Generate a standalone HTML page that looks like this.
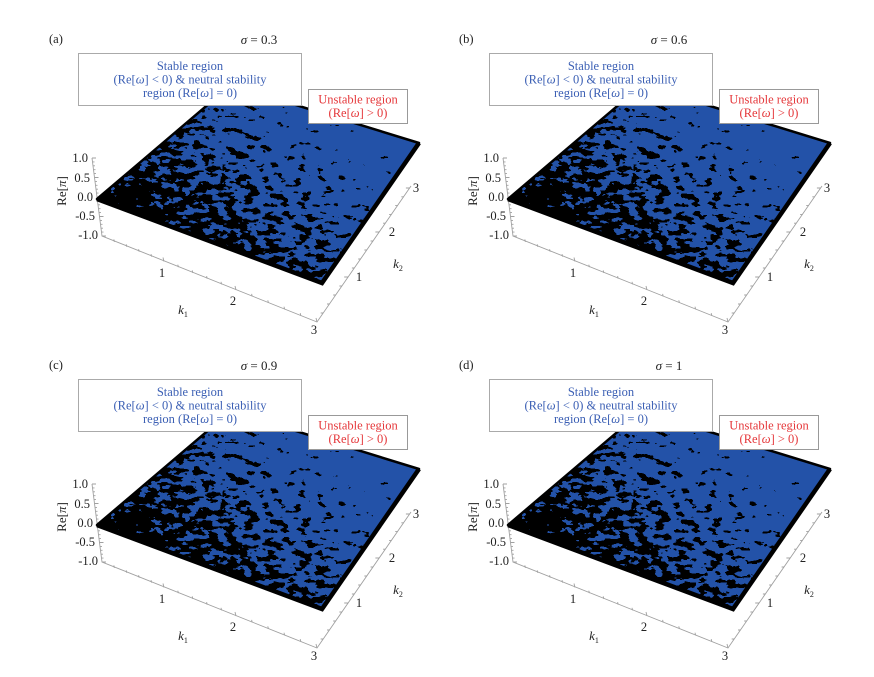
<!DOCTYPE html>
<html><head><meta charset="utf-8"><style>
html,body{margin:0;padding:0;background:#fff;}
svg{display:block;}
text{font-family:"Liberation Serif",serif;}
</style></head><body>
<svg width="874" height="677" viewBox="0 0 874 677" xmlns="http://www.w3.org/2000/svg">
<defs>
  <linearGradient id="gS" gradientUnits="userSpaceOnUse" x1="0" y1="0" x2="192" y2="360">
    <stop offset="0" stop-color="rgb(86,86,86)"/>
    <stop offset="0.5" stop-color="rgb(152,152,152)"/>
    <stop offset="1" stop-color="rgb(222,222,222)"/>
  </linearGradient>
  <linearGradient id="gE" gradientUnits="userSpaceOnUse" x1="0" y1="0" x2="0" y2="25">
    <stop offset="0" stop-color="#000" stop-opacity="0.15"/>
    <stop offset="1" stop-color="#000" stop-opacity="0"/>
  </linearGradient>
  <radialGradient id="gL" gradientUnits="userSpaceOnUse" cx="0" cy="0" r="80">
    <stop offset="0" stop-color="#000" stop-opacity="0.3"/>
    <stop offset="1" stop-color="#000" stop-opacity="0"/>
  </radialGradient>
  <filter id="bf" filterUnits="userSpaceOnUse" x="-40" y="-40" width="440" height="440" color-interpolation-filters="sRGB">
    <feTurbulence type="fractalNoise" baseFrequency="0.075" numOctaves="3" seed="7" result="n"/>
    <feColorMatrix in="n" type="matrix" values="1 0 0 0 0  1 0 0 0 0  1 0 0 0 0  0 0 0 0 1" result="g"/>
    <feComposite in="g" in2="SourceGraphic" operator="arithmetic" k1="0" k2="1" k3="1" k4="-0.5" result="s"/>
    <feComponentTransfer in="s" result="t">
      <feFuncR type="discrete" tableValues="0 1"/>
    </feComponentTransfer>
    <feColorMatrix in="t" type="matrix" values="0.137 0 0 0 0  0.32 0 0 0 0  0.66 0 0 0 0  0 0 0 0 1"/>
  </filter>
  <clipPath id="clipS">
    <polygon points="97,199 231,85 419,143 322,283"/>
  </clipPath>

  <g id="P">
    <!-- axes -->
    <g stroke="#a0a0a0" stroke-width="0.9" fill="none">
      <path d="M92 158 L102 236 L317 322 L411 186"/>
      <path d="M92 158h4 M92.5 161.9h2 M93 165.8h2 M93.5 169.7h2 M94 173.6h2 M94.5 177.5h4 M95 181.4h2 M95.5 185.3h2 M96 189.2h2 M96.5 193.1h2 M97 197h4 M97.5 200.9h2 M98 204.8h2 M98.5 208.7h2 M99 212.6h2 M99.5 216.5h4 M100 220.4h2 M100.5 224.3h2 M101 228.2h2 M101.5 232.1h2 M102 236h4"/>
      <path d="M114.4 241.9l-0.6 -2.5 M126.8 246.8l-0.6 -2.5 M139.2 251.7l-0.6 -2.5 M151.6 256.6l-0.6 -2.5 M164 261.5l-1 -4 M178.4 267.2l-0.6 -2.5 M192.8 272.9l-0.6 -2.5 M207.2 278.6l-0.6 -2.5 M221.6 284.3l-0.6 -2.5 M236 290l-1 -4 M252.2 296.4l-0.6 -2.5 M268.4 302.8l-0.6 -2.5 M284.6 309.2l-0.6 -2.5 M300.8 315.6l-0.6 -2.5 M317 322l-1 -4"/>
      <path d="M323.2 313h-2.5 M329.5 304h-2.5 M335.7 295h-2.5 M341.9 286h-2.5 M348.2 277h-4 M354.4 268h-2.5 M360.7 259h-2.5 M366.9 250h-2.5 M373.1 241h-2.5 M379.4 232h-4 M385.5 223.2h-2.5 M391.6 214.4h-2.5 M397.7 205.6h-2.5 M403.8 196.8h-2.5 M409.9 188h-4"/>
    </g>
    <g font-size="12.5" fill="#222" text-anchor="end">
      <text x="88" y="162">1.0</text>
      <text x="90" y="182">0.5</text>
      <text x="93" y="201">0.0</text>
      <text x="95" y="220">-0.5</text>
      <text x="98" y="239">-1.0</text>
    </g>
    <text transform="translate(66,191) rotate(-90)" font-size="13" fill="#222" text-anchor="middle">Re[<tspan font-style="italic">π</tspan>]</text>
    <g font-size="12.5" fill="#222" text-anchor="middle">
      <text x="162" y="277">1</text>
      <text x="233" y="305">2</text>
      <text x="314" y="334">3</text>
      <text x="359" y="281">1</text>
      <text x="392" y="236">2</text>
      <text x="416" y="192">3</text>
    </g>
    <text x="183" y="314" font-size="13" fill="#222" text-anchor="middle"><tspan font-style="italic">k</tspan><tspan font-size="8" dy="3">1</tspan></text>
    <text x="398" y="268" font-size="13" fill="#222" text-anchor="middle"><tspan font-style="italic">k</tspan><tspan font-size="8" dy="3">2</tspan></text>

    <!-- surface -->
    <polygon points="97,199 231,85 419,143 322,283" fill="#2352a8"/>
    <g clip-path="url(#clipS)">
      <g transform="matrix(0.75,0.28,0.4467,-0.38,97,199)">
        <g filter="url(#bf)">
          <rect x="-40" y="-40" width="440" height="440" fill="url(#gS)"/>
          <rect x="-40" y="-40" width="440" height="440" fill="url(#gE)"/>
          <rect x="-40" y="-40" width="440" height="440" fill="url(#gL)"/>
        </g>
      </g>
    </g>
    <polygon points="97,199 231,85 419,143 322,283" fill="none" stroke="#000" stroke-width="2.5" stroke-linejoin="round"/>
    <polyline points="97,199 322,283 419,143" fill="none" stroke="#000" stroke-width="4.5" stroke-linejoin="miter"/>

    <!-- legend boxes -->
    <rect x="78.5" y="53.5" width="223" height="52" fill="#fff" stroke="#aaa" stroke-width="1"/>
    <g font-size="12.5" fill="#3b5fb4" text-anchor="middle">
      <text x="190" y="70">Stable region</text>
      <text x="190" y="83.5">(Re[<tspan font-style="italic">ω</tspan>] &lt; 0) &amp; neutral stability</text>
      <text x="190" y="97">region (Re[<tspan font-style="italic">ω</tspan>] = 0)</text>
    </g>
    <rect x="308.5" y="89.5" width="99" height="34" fill="#fff" stroke="#999" stroke-width="1"/>
    <g font-size="12.5" fill="#e5383b" text-anchor="middle">
      <text x="358" y="103.5">Unstable region</text>
      <text x="358" y="117">(Re[<tspan font-style="italic">ω</tspan>] &gt; 0)</text>
    </g>
  </g>
</defs>

<rect width="874" height="677" fill="#fff"/>

<use href="#P"/>
<use href="#P" transform="translate(411,0)"/>
<use href="#P" transform="translate(0,326)"/>
<use href="#P" transform="translate(411,326)"/>

<g font-size="12.5" fill="#222">
  <text x="49" y="43">(a)</text>
  <text x="459" y="43">(b)</text>
  <text x="49" y="369">(c)</text>
  <text x="459" y="369">(d)</text>
</g>
<g font-size="13" fill="#222" text-anchor="middle">
  <text x="259" y="44"><tspan font-style="italic">σ</tspan> = 0.3</text>
  <text x="669" y="44"><tspan font-style="italic">σ</tspan> = 0.6</text>
  <text x="259" y="370"><tspan font-style="italic">σ</tspan> = 0.9</text>
  <text x="669" y="370"><tspan font-style="italic">σ</tspan> = 1</text>
</g>
</svg>
</body></html>
